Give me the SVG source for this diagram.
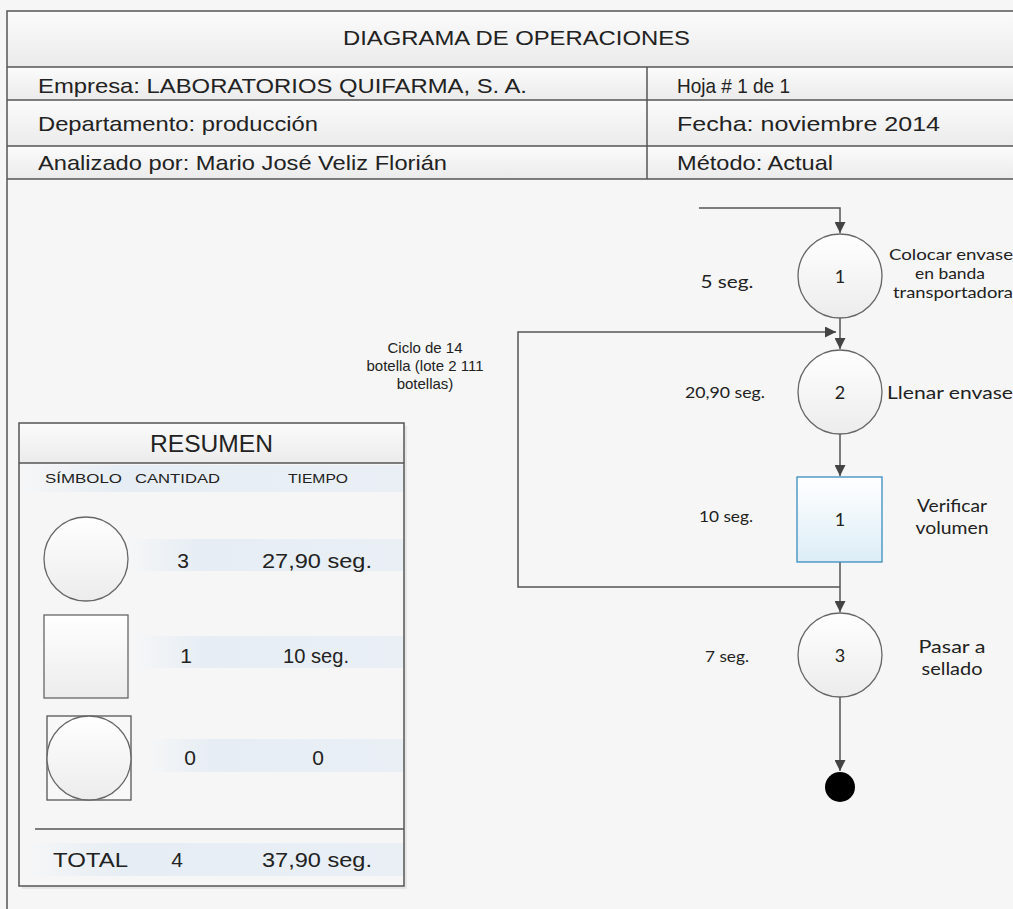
<svg xmlns="http://www.w3.org/2000/svg" width="1013" height="909" viewBox="0 0 1013 909">
<style>
.hdr{font-family:"Liberation Sans",Arial,sans-serif;font-size:21px;fill:#222}
.sum{font-family:"Liberation Sans",Arial,sans-serif;fill:#222}
.lbl{font-family:Lato,"Liberation Sans",sans-serif;fill:#222;text-anchor:middle}
.num{font-family:Lato,"Liberation Sans",sans-serif;font-size:18px;fill:#222;text-anchor:middle}
.grid{stroke:#555;stroke-width:1.5;fill:none}
.conn{stroke:#555;stroke-width:1.5;fill:none}
.sym{stroke:#666;stroke-width:1.3;fill:url(#gSym)}
</style>
<defs>
<linearGradient id="gRow" x1="0" y1="0" x2="0" y2="1"><stop offset="0" stop-color="#fbfbfb"/><stop offset="1" stop-color="#ebebeb"/></linearGradient>
<linearGradient id="gSym" x1="0" y1="0" x2="0" y2="1"><stop offset="0" stop-color="#ffffff"/><stop offset="1" stop-color="#ececec"/></linearGradient>
<linearGradient id="gBox" x1="0" y1="0" x2="0" y2="1"><stop offset="0" stop-color="#ffffff"/><stop offset="1" stop-color="#dcedf6"/></linearGradient>
<linearGradient id="gBand" x1="0" y1="0" x2="1" y2="0"><stop offset="0" stop-color="#f5f6f7"/><stop offset="0.25" stop-color="#e6edf4"/><stop offset="1" stop-color="#e9eff5"/></linearGradient>
<marker id="arr" viewBox="0 0 10 10" refX="10" refY="5" markerWidth="11" markerHeight="11" markerUnits="userSpaceOnUse" orient="auto"><path d="M0,0 L10,5 L0,10 z" fill="#444"/></marker>
</defs>
<rect width="1013" height="909" fill="#f6f6f6"/>

<g id="header">
<rect x="7" y="11" width="1010" height="56" fill="url(#gRow)"/>
<rect x="7" y="67" width="1010" height="33" fill="url(#gRow)"/>
<rect x="7" y="100" width="1010" height="46" fill="url(#gRow)"/>
<rect x="7" y="146" width="1010" height="33" fill="url(#gRow)"/>
<path class="grid" d="M1015,11 H7 V909 M7,67 H1015 M7,100 H1015 M7,146 H1015 M7,179 H1015 M647,67 V179"/>
<text class="hdr" x="343" y="45" textLength="347" lengthAdjust="spacingAndGlyphs">DIAGRAMA DE OPERACIONES</text>
<text class="hdr" x="38" y="93" textLength="489" lengthAdjust="spacingAndGlyphs">Empresa: LABORATORIOS QUIFARMA, S. A.</text>
<text class="hdr" x="677" y="93" textLength="113" lengthAdjust="spacingAndGlyphs">Hoja # 1 de 1</text>
<text class="hdr" x="38" y="131" textLength="280" lengthAdjust="spacingAndGlyphs">Departamento: producción</text>
<text class="hdr" x="677" y="131" textLength="263" lengthAdjust="spacingAndGlyphs">Fecha: noviembre 2014</text>
<text class="hdr" x="38" y="170" textLength="409" lengthAdjust="spacingAndGlyphs">Analizado por: Mario José Veliz Florián</text>
<text class="hdr" x="677" y="170" textLength="156" lengthAdjust="spacingAndGlyphs">Método: Actual</text>
</g>

<g id="resumen">
<rect x="22" y="426" width="385" height="463" fill="#dcdcdc" opacity="0.6"/>
<rect x="19" y="423" width="385" height="463" fill="#f6f6f6" stroke="#555" stroke-width="1.5"/>
<rect x="20" y="424" width="383" height="39" fill="url(#gRow)"/>
<line class="grid" x1="19" y1="463" x2="404" y2="463"/>
<text class="sum" x="150" y="452" font-size="24" textLength="123" lengthAdjust="spacingAndGlyphs">RESUMEN</text>
<rect x="25" y="465" width="378" height="27" fill="url(#gBand)"/>
<text class="sum" x="45" y="483" font-size="13" textLength="77" lengthAdjust="spacingAndGlyphs">SÍMBOLO</text>
<text class="sum" x="135" y="483" font-size="13" textLength="85" lengthAdjust="spacingAndGlyphs">CANTIDAD</text>
<text class="sum" x="288" y="483" font-size="13" textLength="60" lengthAdjust="spacingAndGlyphs">TIEMPO</text>

<rect x="130" y="539" width="273" height="32" fill="url(#gBand)"/>
<circle class="sym" cx="86" cy="559" r="42"/>
<text class="sum" x="183" y="568" font-size="21" text-anchor="middle">3</text>
<text class="sum" x="262" y="568" font-size="21" textLength="110" lengthAdjust="spacingAndGlyphs">27,90 seg.</text>

<rect x="138" y="636" width="265" height="32" fill="url(#gBand)"/>
<rect class="sym" x="44" y="615" width="84" height="83"/>
<text class="sum" x="186" y="663" font-size="21" text-anchor="middle">1</text>
<text class="sum" x="283" y="663" font-size="21" textLength="66" lengthAdjust="spacingAndGlyphs">10 seg.</text>

<rect x="150" y="739" width="253" height="33" fill="url(#gBand)"/>
<rect x="47" y="716" width="84" height="84" fill="#f8f8f8" stroke="#555" stroke-width="1.3"/>
<circle class="sym" cx="89" cy="758" r="42"/>
<text class="sum" x="190" y="765" font-size="21" text-anchor="middle">0</text>
<text class="sum" x="318" y="765" font-size="21" text-anchor="middle">0</text>

<line class="grid" x1="35" y1="829" x2="404" y2="829"/>
<rect x="30" y="843" width="373" height="33" fill="url(#gBand)"/>
<text class="sum" x="53" y="867" font-size="21" textLength="75" lengthAdjust="spacingAndGlyphs">TOTAL</text>
<text class="sum" x="177" y="867" font-size="21" text-anchor="middle">4</text>
<text class="sum" x="262" y="867" font-size="21" textLength="110" lengthAdjust="spacingAndGlyphs">37,90 seg.</text>
</g>

<g id="connectors">
<path class="conn" d="M699,208 H840 V233" marker-end="url(#arr)"/>
<path class="conn" d="M840,318 V349" marker-end="url(#arr)"/>
<path class="conn" d="M840,587 H518 V332 H836" marker-end="url(#arr)"/>
<path class="conn" d="M840,434 V476" marker-end="url(#arr)"/>
<path class="conn" d="M840,562 V612" marker-end="url(#arr)"/>
<path class="conn" d="M840,697 V771" marker-end="url(#arr)"/>
</g>

<g id="op1">
<circle class="sym" cx="840" cy="276" r="42"/>
<text class="num" x="840" y="283">1</text>
<text class="lbl" x="727" y="288" font-size="18" textLength="53" lengthAdjust="spacingAndGlyphs">5 seg.</text>
<text class="lbl" x="951" y="260" font-size="16" textLength="124" lengthAdjust="spacingAndGlyphs">Colocar envase</text>
<text class="lbl" x="950" y="279" font-size="16" textLength="70" lengthAdjust="spacingAndGlyphs">en banda</text>
<text class="lbl" x="953" y="298" font-size="16" textLength="120" lengthAdjust="spacingAndGlyphs">transportadora</text>
</g>

<g id="op2">
<circle class="sym" cx="840" cy="392" r="42"/>
<text class="num" x="840" y="399">2</text>
<text class="lbl" x="725" y="398" font-size="15" textLength="80" lengthAdjust="spacingAndGlyphs">20,90 seg.</text>
<text class="lbl" x="950" y="399" font-size="18" textLength="126" lengthAdjust="spacingAndGlyphs">Llenar envase</text>
</g>

<g id="insp1">
<rect x="797" y="477" width="85" height="85" fill="url(#gBox)" stroke="#3a8dc0" stroke-width="1.3"/>
<text class="num" x="840" y="526">1</text>
<text class="lbl" x="726" y="522" font-size="15" textLength="54" lengthAdjust="spacingAndGlyphs">10 seg.</text>
<text class="lbl" x="952" y="512" font-size="18" textLength="70" lengthAdjust="spacingAndGlyphs">Verificar</text>
<text class="lbl" x="952" y="534" font-size="18" textLength="73" lengthAdjust="spacingAndGlyphs">volumen</text>
</g>

<g id="op3">
<circle class="sym" cx="840" cy="655" r="42"/>
<text class="num" x="840" y="662">3</text>
<text class="lbl" x="727" y="662" font-size="15" textLength="44" lengthAdjust="spacingAndGlyphs">7 seg.</text>
<text class="lbl" x="952" y="653" font-size="18" textLength="67" lengthAdjust="spacingAndGlyphs">Pasar a</text>
<text class="lbl" x="952" y="675" font-size="18" textLength="61" lengthAdjust="spacingAndGlyphs">sellado</text>
</g>

<g id="ciclo">
<text class="sum" x="425" y="353" font-size="15" text-anchor="middle">Ciclo de 14</text>
<text class="sum" x="425" y="371" font-size="15" text-anchor="middle">botella (lote 2 111</text>
<text class="sum" x="425" y="389" font-size="15" text-anchor="middle">botellas)</text>
</g>

<g id="end">
<circle cx="840" cy="787" r="15" fill="#000"/>
</g>
</svg>
